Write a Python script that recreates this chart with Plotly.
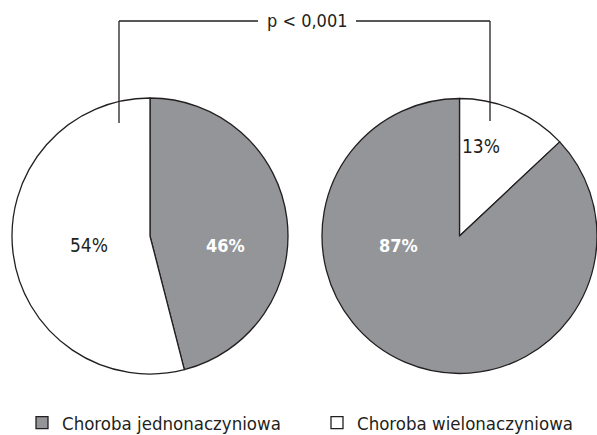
import plotly.graph_objects as go

W, H = 597, 435
FONT = "DejaVu Sans Condensed, Liberation Sans Narrow, Arial Narrow, sans-serif"

categories = ["Choroba jednonaczyniowa", "Choroba wielonaczyniowa"]
left_values = [46, 54]    # jedno-, wielo-
right_values = [87, 13]   # jedno-, wielo-
p_text = "p < 0,001"

GREY = "#939598"
WHITE = "#ffffff"
EDGE = "#231f20"

def px_x(x):
    return x / W

def px_y(y):
    return 1 - y / H

fig = go.Figure()

# Left pie: grey slice first, clockwise from 12 o'clock
fig.add_trace(go.Pie(
    labels=categories, values=left_values,
    marker=dict(colors=[GREY, WHITE], line=dict(color=EDGE, width=1.3)),
    sort=False, direction="clockwise", rotation=0,
    textinfo="none", hoverinfo="label+percent",
    domain=dict(x=[px_x(12), px_x(288)], y=[px_y(375), px_y(97)]),
    showlegend=True,
))
# Right pie: white slice first, clockwise from 12 o'clock
fig.add_trace(go.Pie(
    labels=[categories[1], categories[0]], values=[right_values[1], right_values[0]],
    marker=dict(colors=[WHITE, GREY], line=dict(color=EDGE, width=1.3)),
    sort=False, direction="clockwise", rotation=0,
    textinfo="none", hoverinfo="label+percent",
    domain=dict(x=[px_x(322), 1.0], y=[px_y(375), px_y(97)]),
    showlegend=False,
))

# Percentage labels
labels = [
    (left_values[1], 89, 245, EDGE, False),
    (left_values[0], 225, 245, WHITE, True),
    (right_values[0], 398, 245, WHITE, True),
    (right_values[1], 481, 146, EDGE, False),
]
for v, x, y, col, bold in labels:
    txt = f"{v}%"
    if bold:
        txt = f"<b>{txt}</b>"
    fig.add_annotation(x=px_x(x), y=px_y(y), xref="paper", yref="paper",
                       text=txt, showarrow=False,
                       font=dict(family=FONT, size=18 if bold else 19, color=col),
                       xanchor="center", yanchor="middle")

# Significance bracket
line = dict(color=EDGE, width=1.3)
for (x0, y0, x1, y1) in [(119, 21, 119, 123), (119, 21, 258, 21),
                         (356, 21, 490, 21), (490, 21, 490, 121)]:
    fig.add_shape(type="line", xref="paper", yref="paper",
                  x0=px_x(x0), y0=px_y(y0), x1=px_x(x1), y1=px_y(y1), line=line)
fig.add_annotation(x=px_x(307), y=px_y(21), xref="paper", yref="paper",
                   text=p_text, showarrow=False,
                   font=dict(family=FONT, size=18, color=EDGE),
                   xanchor="center", yanchor="middle")

fig.update_layout(
    width=W, height=H,
    margin=dict(l=0, r=0, t=0, b=0, autoexpand=False),
    paper_bgcolor="white", plot_bgcolor="white",
    font=dict(family=FONT, size=18, color=EDGE),
    legend=dict(orientation="h", x=px_x(22), xanchor="left",
                y=px_y(423), yanchor="middle",
                entrywidth=250, entrywidthmode="pixels",
                font=dict(family=FONT, size=18.5, color=EDGE),
                bgcolor="rgba(0,0,0,0)"),
)

fig.write_html("out.html", config={"displayModeBar": False},
               post_script="document.body.style.margin='0';document.body.style.overflow='hidden';")
